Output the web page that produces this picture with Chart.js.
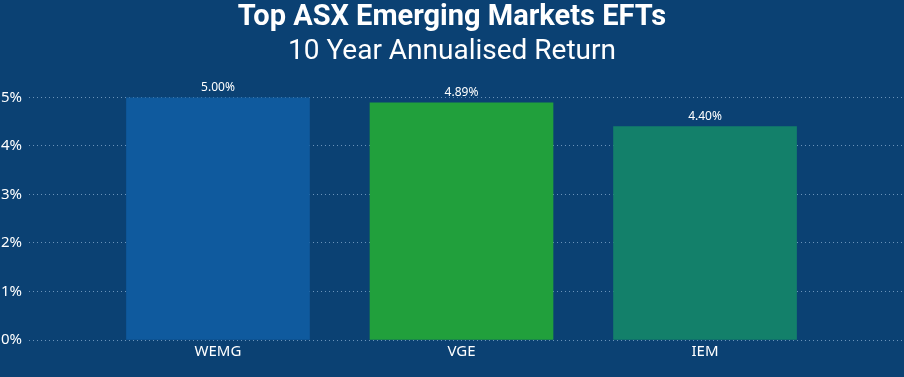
<!DOCTYPE html>
<html>
<head>
<meta charset="utf-8">
<script src="https://cdn.jsdelivr.net/npm/chart.js@4"></script>
<style>
html,body{margin:0;padding:0;background:#0b4173;}
#wrap{width:904px;height:377px;}
</style>
</head>
<body>
<div id="wrap"><canvas id="c" width="904" height="377"></canvas></div>
<script>
const categories = ['WEMG', 'VGE', 'IEM'];
const returns = [5.00, 4.89, 4.40];
const barColors = ['#0f5a9e', '#21a03c', '#13806a'];
const yTicks = [0, 1, 2, 3, 4, 5];

const labelPlugin = {
  id: 'valueLabels',
  afterDatasetsDraw(chart) {
    const ctx = chart.ctx;
    const meta = chart.getDatasetMeta(0);
    ctx.save();
    ctx.font = '12px "Noto Sans", sans-serif';
    ctx.fillStyle = '#ffffff';
    ctx.textAlign = 'center';
    ctx.textBaseline = 'bottom';
    meta.data.forEach((el, i) => {
      ctx.fillText(returns[i].toFixed(2) + '%', el.x, el.y - 4);
    });
    ctx.restore();
  }
};

new Chart(document.getElementById('c'), {
  type: 'bar',
  data: {
    datasets: [{
      data: returns.map((v, i) => ({x: i, y: v})),
      backgroundColor: barColors,
      barThickness: 183,
      borderWidth: 0
    }]
  },
  options: {
    responsive: false,
    animation: false,
    devicePixelRatio: 1,
    layout: {padding: {left: 0, right: 0, top: 0, bottom: 13}},
    plugins: {
      legend: {display: false},
      tooltip: {enabled: false},
      title: {
        display: true,
        text: 'Top ASX Emerging Markets EFTs',
        color: '#ffffff',
        font: {family: 'Roboto', size: 29, weight: 'bold', lineHeight: 1.2},
        padding: {top: 0, bottom: 0}
      },
      subtitle: {
        display: true,
        text: '10 Year Annualised Return',
        color: '#ffffff',
        font: {family: 'Roboto', size: 28, weight: 'normal', lineHeight: 1.2},
        padding: {top: 0, bottom: 29}
      }
    },
    scales: {
      x: {
        type: 'linear',
        offset: false,
        min: -0.776,
        max: 2.817,
        grid: {display: false, drawTicks: false},
        border: {display: false},
        afterBuildTicks(scale) {
          scale.ticks = categories.map((c, i) => ({value: i}));
        },
        ticks: {
          color: '#ffffff',
          font: {family: 'Noto Sans', size: 15},
          padding: 3,
          callback: (v) => categories[v] ?? ''
        }
      },
      y: {
        min: 0,
        max: 5,
        afterBuildTicks(scale) {
          scale.ticks = yTicks.map(v => ({value: v}));
        },
        afterFit(scale) { scale.width = 29; },
        grid: {color: 'rgba(140,175,210,0.75)', lineWidth: 1, drawTicks: false},
        border: {display: false, dash: [1, 3]},
        ticks: {
          color: '#ffffff',
          font: {family: 'Noto Sans', size: 15},
          padding: 7,
          callback: (v) => v + '%'
        }
      }
    }
  },
  plugins: [labelPlugin]
});
</script>
</body>
</html>
